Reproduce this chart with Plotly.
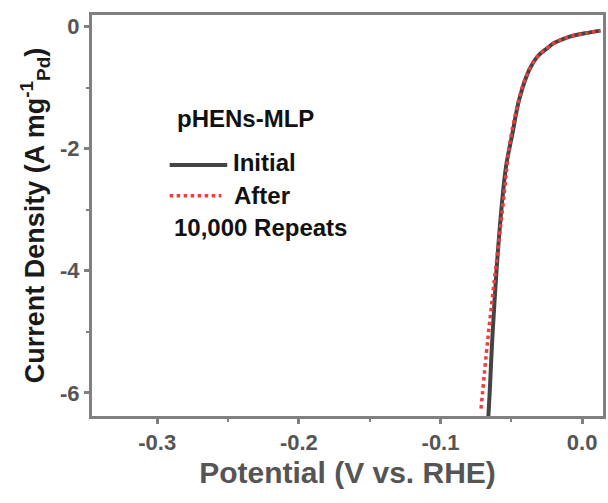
import plotly.graph_objects as go

# Data
initial_x = [-0.0662, -0.0653, -0.0632, -0.0585, -0.0538, -0.0492, -0.0445, -0.0374, -0.0316, -0.0250, -0.0199, -0.0140, -0.0082, 0.0020, 0.0129]
initial_y = [-6.38, -6.00, -5.02, -3.39, -2.30, -1.75, -1.20, -0.71, -0.49, -0.36, -0.27, -0.21, -0.16, -0.11, -0.066]

after_x = [-0.0714, -0.0667, -0.0609, -0.0550, -0.0515, -0.0475, -0.0421, -0.0374, -0.0316, -0.0250, -0.0199, -0.0140, -0.0082, 0.0020, 0.0129]
after_y = [-6.26, -5.14, -3.93, -2.73, -1.97, -1.48, -0.98, -0.71, -0.49, -0.36, -0.27, -0.21, -0.16, -0.11, -0.066]

x_ticks = [-0.3, -0.2, -0.1, 0.0]
x_tick_labels = ["-0.3", "-0.2", "-0.1", "0.0"]
y_ticks = [0, -2, -4, -6]
y_tick_labels = ["0", "-2", "-4", "-6"]

FONT = "Liberation Sans, Arial, sans-serif"
AX = "#808080"
TXT = "#555555"

fig = go.Figure()
fig.add_trace(go.Scatter(x=initial_x, y=initial_y, mode="lines", name="Initial",
                         line=dict(color="#444444", width=4, shape="spline"), showlegend=False))
fig.add_trace(go.Scatter(x=after_x, y=after_y, mode="lines", name="After",
                         line=dict(color="#f03c3c", width=3.5, dash="dot", shape="spline"), showlegend=False))

axis_common = dict(showline=True, linecolor=AX, linewidth=3, mirror=True, showgrid=False, zeroline=False,
                   ticks="outside", ticklen=5, tickwidth=3, tickcolor=AX,
                   tickfont=dict(family=FONT, size=22, color=TXT, weight="bold"),
                   minor=dict(ticks="outside", ticklen=3, tickwidth=2, tickcolor=AX))

fig.update_xaxes(range=[-0.346, 0.0147], tickvals=x_ticks, ticktext=x_tick_labels,
                 title=dict(text="Potential (V vs. RHE)", font=dict(family=FONT, size=30, color=TXT, weight="bold"), standoff=8),
                 **axis_common)
fig.update_xaxes(minor=dict(tickvals=[-0.35, -0.25, -0.15, -0.05]))
fig.update_yaxes(range=[-6.38, 0.19], tickvals=y_ticks, ticktext=y_tick_labels,
                 title=dict(text="Current Density (A mg<sup>-1</sup><sub>Pd</sub>)", font=dict(family=FONT, size=27, color="#1a1a1a", weight="bold"), standoff=8),
                 **axis_common)
fig.update_yaxes(minor=dict(tickvals=[-1, -3, -5]))

lf = dict(family=FONT, size=24, color="#111111", weight="bold")
fig.add_annotation(x=0.1615, y=0.743, xref="paper", yref="paper", text="pHENs-MLP", showarrow=False,
                   xanchor="left", yanchor="middle", font=lf)
fig.add_annotation(x=0.272, y=0.631, xref="paper", yref="paper", text="Initial", showarrow=False,
                   xanchor="left", yanchor="middle", font=lf)
fig.add_annotation(x=0.274, y=0.551, xref="paper", yref="paper", text="After", showarrow=False,
                   xanchor="left", yanchor="middle", font=lf)
fig.add_annotation(x=0.156, y=0.471, xref="paper", yref="paper", text="10,000 Repeats", showarrow=False,
                   xanchor="left", yanchor="middle", font=lf)
fig.add_shape(type="line", xref="paper", yref="paper", x0=0.152, x1=0.2646, y0=0.626, y1=0.626,
              line=dict(color="#444444", width=4))
fig.add_shape(type="line", xref="paper", yref="paper", x0=0.152, x1=0.253, y0=0.549, y1=0.549,
              line=dict(color="#f03c3c", width=3.5, dash="dot"))

fig.update_layout(width=608, height=503, margin=dict(l=92, r=2, t=15, b=87),
                  plot_bgcolor="white", paper_bgcolor="white", showlegend=False)

fig.write_html("out.html")
